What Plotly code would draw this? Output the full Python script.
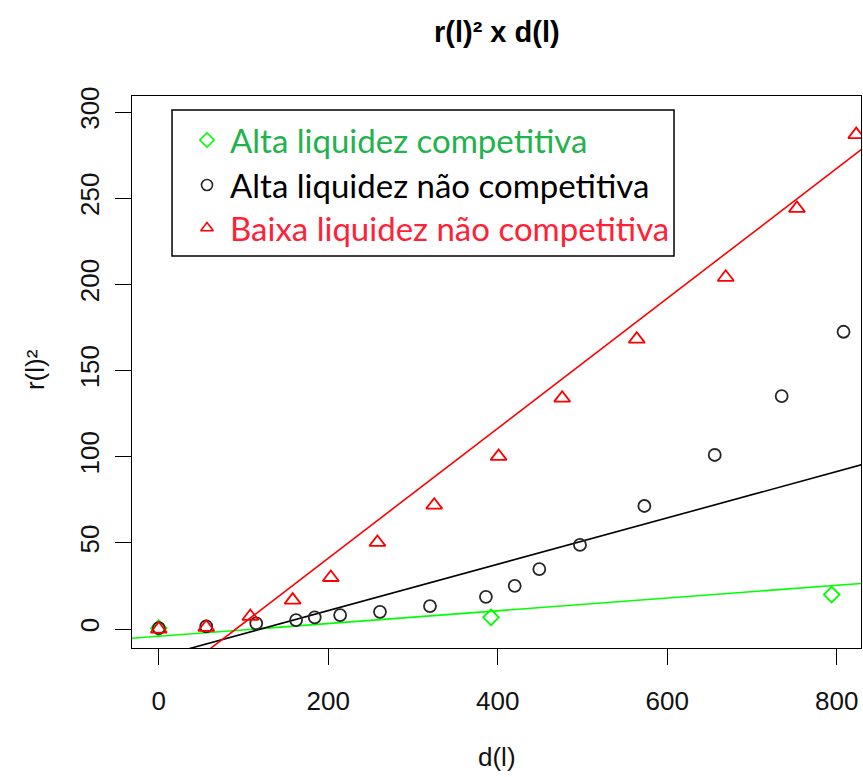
import plotly.graph_objects as go

# --- data -------------------------------------------------------------
alta_comp_x = [0, 392, 794]
alta_comp_y = [0.5, 6.8, 20.0]

alta_nao_x = [0, 56, 115, 162, 184, 214, 261, 320, 386, 420, 449, 497, 573, 656, 735, 808]
alta_nao_y = [0.5, 1.5, 3.3, 5.2, 6.8, 8.1, 10.0, 13.3, 18.7, 25.1, 34.8, 48.8, 71.4, 101.0, 135.2, 172.5]

baixa_nao_x = [0, 56, 108, 158, 203, 258, 325, 401, 476, 564, 669, 753, 823]
baixa_nao_y = [0.0, 1.0, 7.3, 16.8, 29.9, 50.3, 71.9, 100.2, 134.0, 168.2, 204.1, 244.1, 286.9]

# fitted straight lines: (intercept, slope)
fit_alta_comp = (-4.2, 0.037)
fit_alta_nao = (-16.2, 0.1345)
fit_baixa_nao = (-34.3, 0.377)

x_ticks = [0, 200, 400, 600, 800]
y_ticks = [0, 50, 100, 150, 200, 250, 300]

legend_labels = ["Alta liquidez competitiva",
                 "Alta liquidez não competitiva",
                 "Baixa liquidez não competitiva"]

X_RANGE = [-31.6, 828.6]
Y_RANGE = [-11.0, 309.3]

GREEN = "#00ff00"
RED = "#ff0000"
BLACK = "#000000"
DARK = "#262626"

TICK_FONT = dict(family="Liberation Sans Narrow, Arial Narrow, Liberation Sans, Arial",
                 size=26, color="#111111")


def fit_line(coef):
    a, b = coef
    xs = [X_RANGE[0] - 20, X_RANGE[1] + 20]
    return xs, [a + b * v for v in xs]


fig = go.Figure()

for coef, col in [(fit_alta_comp, GREEN), (fit_alta_nao, BLACK), (fit_baixa_nao, RED)]:
    lx, ly = fit_line(coef)
    fig.add_trace(go.Scatter(x=lx, y=ly, mode="lines",
                             line=dict(color=col, width=1.6), hoverinfo="skip"))

fig.add_trace(go.Scatter(x=alta_comp_x, y=alta_comp_y, mode="markers",
                         marker=dict(symbol="diamond-open", size=12, color=GREEN,
                                     line=dict(width=1.8))))
fig.add_trace(go.Scatter(x=alta_nao_x, y=alta_nao_y, mode="markers",
                         marker=dict(symbol="circle-open", size=12, color=DARK,
                                     line=dict(width=1.8))))
fig.add_trace(go.Scatter(x=baixa_nao_x, y=baixa_nao_y, mode="markers",
                         marker=dict(symbol="triangle-up-open", size=14, color=RED,
                                     line=dict(width=1.8))))

# legend box drawn on an overlay axis with a 0..1 range
leg_sym_x = 0.1029
leg_rows_y = [0.9203, 0.8388, 0.7609]
leg_symbols = ["diamond-open", "circle-open", "triangle-up-open"]
leg_sym_colors = [GREEN, DARK, RED]
leg_text_colors = ["#22b24c", "#000000", "#ff2237"]

for sym, col, yy in zip(leg_symbols, leg_sym_colors, leg_rows_y):
    fig.add_trace(go.Scatter(x=[leg_sym_x], y=[yy], mode="markers", xaxis="x2", yaxis="y2",
                             marker=dict(symbol=sym, size=11, color=col, line=dict(width=1.6)),
                             hoverinfo="skip"))

annotations = []
for txt, col, yy in zip(legend_labels, leg_text_colors, leg_rows_y):
    annotations.append(dict(text=txt, xref="paper", yref="paper", x=0.1317, y=yy,
                            xanchor="left", yanchor="middle", showarrow=False,
                            font=dict(family="Lato, Noto Sans, sans-serif", size=33, color=col)))

annotations.append(dict(text="<b>r(l)² x d(l)</b>", xref="paper", yref="paper",
                        x=0.5, y=1.116, xanchor="center", yanchor="middle", showarrow=False,
                        font=dict(family="Liberation Sans, Arial", size=29, color="#000000")))
annotations.append(dict(text="d(l)", xref="paper", yref="paper",
                        x=0.5, y=-0.1975, xanchor="center", yanchor="middle", showarrow=False,
                        font=TICK_FONT))
annotations.append(dict(text="r(l)²", xref="paper", yref="paper", textangle=-90,
                        x=-0.133, y=0.5036, xanchor="center", yanchor="middle", showarrow=False,
                        font=TICK_FONT))

fig.add_shape(type="rect", xref="paper", yref="paper",
              x0=0.0549, x1=0.7435, y0=0.7101, y1=0.9746,
              line=dict(color="#000000", width=1.5), fillcolor="rgba(0,0,0,0)")

axis_common = dict(showgrid=False, zeroline=False, showline=True, mirror=True,
                   linecolor="#000000", linewidth=1.2, ticks="outside", ticklen=16,
                   tickwidth=1.2, tickcolor="#000000", tickfont=TICK_FONT)

fig.update_layout(
    width=863, height=777,
    margin=dict(l=132, r=2, t=96, b=129),
    paper_bgcolor="white", plot_bgcolor="white",
    showlegend=False,
    annotations=annotations,
    xaxis=dict(range=X_RANGE, tickmode="array", tickvals=x_ticks,
               ticklabelstandoff=14, **axis_common),
    yaxis=dict(range=Y_RANGE, tickmode="array", tickvals=y_ticks, tickangle=-90,
               ticklabelstandoff=6, **axis_common),
    xaxis2=dict(range=[0, 1], overlaying="x", visible=False),
    yaxis2=dict(range=[0, 1], overlaying="y", visible=False),
)

fig.write_html("out.html")
